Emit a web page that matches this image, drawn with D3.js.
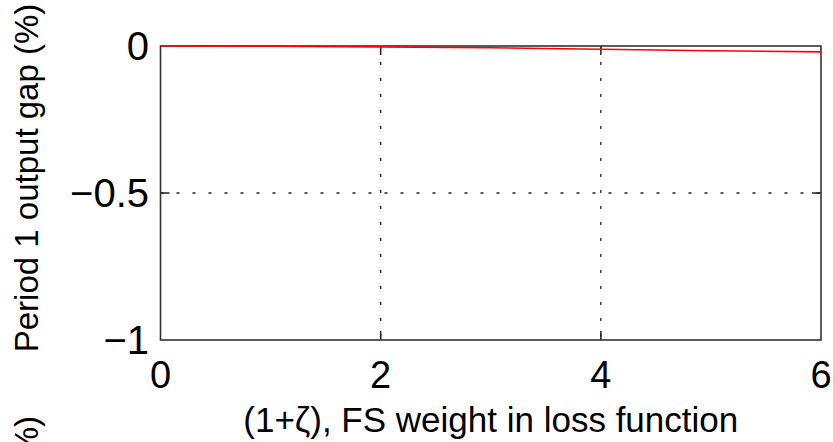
<!DOCTYPE html>
<html>
<head>
<meta charset="utf-8">
<script src="https://cdn.jsdelivr.net/npm/d3@7"></script>
<style>
  body { margin: 0; background: #fff; }
  svg text { font-family: "Liberation Sans", Arial, sans-serif; fill: #000; }
</style>
</head>
<body>
<svg id="chart" width="833" height="442"></svg>
<script>
'use strict';

// FS weight (1+zeta) and period 1 output gap (%)
const weights = [0, 1, 2, 3, 4, 5, 6];
const outputGap = [0, -0.001, -0.003, -0.006, -0.011, -0.016, -0.020];

const xTicks = [0, 2, 4, 6];
const yTicks = [-1, -0.5, 0];
const yTickLabels = ['\u22121', '\u22120.5', '0'];

const svg = d3.select('#chart');

// plot box
const boxL = 160.5, boxR = 821, boxT = 46, boxB = 340;

const x = d3.scaleLinear().domain([0, 6]).range([boxL, boxR]);
const y = d3.scaleLinear().domain([-1, 0]).range([boxB, boxT]);

// dotted grid at interior ticks
svg.selectAll('.gx').data(xTicks.slice(1, -1)).enter().append('line')
  .attr('x1', d => x(d)).attr('x2', d => x(d))
  .attr('y1', boxT).attr('y2', boxB)
  .attr('stroke', '#222').attr('stroke-width', 1.3)
  .attr('stroke-dasharray', '3,13');

svg.selectAll('.gy').data(yTicks.slice(1, -1)).enter().append('line')
  .attr('x1', boxL).attr('x2', boxR)
  .attr('y1', d => y(d)).attr('y2', d => y(d))
  .attr('stroke', '#222').attr('stroke-width', 1.3)
  .attr('stroke-dasharray', '3,13');

// inward ticks, top/bottom and left/right
const tl = 9;
xTicks.slice(1, -1).forEach(t => {
  svg.append('line').attr('x1', x(t)).attr('x2', x(t)).attr('y1', boxB).attr('y2', boxB - tl)
    .attr('stroke', '#222').attr('stroke-width', 1.5);
  svg.append('line').attr('x1', x(t)).attr('x2', x(t)).attr('y1', boxT).attr('y2', boxT + tl)
    .attr('stroke', '#222').attr('stroke-width', 1.5);
});
yTicks.slice(1, -1).forEach(t => {
  svg.append('line').attr('x1', boxL).attr('x2', boxL + tl).attr('y1', y(t)).attr('y2', y(t))
    .attr('stroke', '#222').attr('stroke-width', 1.5);
  svg.append('line').attr('x1', boxR).attr('x2', boxR - tl).attr('y1', y(t)).attr('y2', y(t))
    .attr('stroke', '#222').attr('stroke-width', 1.5);
});

// axes box
svg.append('rect')
  .attr('x', boxL).attr('y', boxT)
  .attr('width', boxR - boxL).attr('height', boxB - boxT)
  .attr('fill', 'none').attr('stroke', '#333').attr('stroke-width', 1.6);

// the series
const line = d3.line().x((d, i) => x(weights[i])).y(d => y(d));
svg.append('path')
  .datum(outputGap)
  .attr('d', line)
  .attr('fill', 'none')
  .attr('stroke', '#ff0000')
  .attr('stroke-width', 1.6);

// tick labels
svg.selectAll('.xl').data(xTicks).enter().append('text')
  .attr('x', d => x(d)).attr('y', 388)
  .attr('text-anchor', 'middle')
  .attr('font-size', 38)
  .text(d => d);

svg.selectAll('.yl').data(yTicks).enter().append('text')
  .attr('x', 149).attr('y', d => y(d) + 14)
  .attr('text-anchor', 'end')
  .attr('font-size', 40)
  .text((d, i) => yTickLabels[i]);

// axis labels
svg.append('text')
  .attr('x', x(3)).attr('y', 432)
  .attr('text-anchor', 'middle')
  .attr('font-size', 35)
  .text('(1+\u03b6), FS weight in loss function');

svg.append('text')
  .attr('transform', 'translate(38,178) rotate(-90)')
  .attr('text-anchor', 'middle')
  .attr('font-size', 33)
  .text('Period 1 output gap (%)');

// end of the next panel's label, cut off at the bottom edge
svg.append('text')
  .attr('transform', 'translate(38,416) rotate(-90)')
  .attr('text-anchor', 'end')
  .attr('font-size', 33)
  .text('(%)');
</script>
</body>
</html>
